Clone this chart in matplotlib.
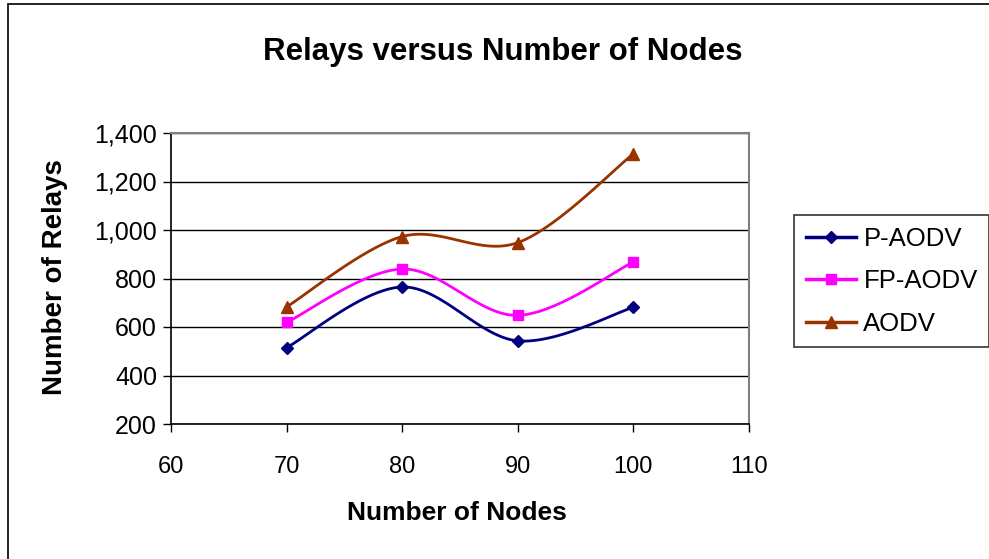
import numpy as np
import matplotlib.pyplot as plt
from matplotlib.patches import Rectangle
from matplotlib.ticker import FuncFormatter

plt.rcParams['font.family'] = ['Liberation Sans', 'DejaVu Sans']

# Data
nodes = [70, 80, 90, 100]
p_aodv = [515, 765, 543, 681]
fp_aodv = [619, 839, 648, 868]
aodv = [683, 973, 948, 1314]

series = [
    ('P-AODV', p_aodv, '#000080', 'D', 6),
    ('FP-AODV', fp_aodv, '#FF00FF', 's', 7),
    ('AODV', aodv, '#993300', '^', 8),
]


# Excel style smoothed line (cubic Bezier with Catmull-Rom control points)
def smooth(x, y, n=40):
    pts = np.column_stack([np.asarray(x, float), np.asarray(y, float)])
    out = []
    for i in range(len(pts) - 1):
        p0 = pts[i - 1] if i > 0 else pts[i]
        p1 = pts[i]
        p2 = pts[i + 1]
        p3 = pts[i + 2] if i + 2 < len(pts) else pts[i + 1]
        c1 = p1 + (p2 - p0) / 6.0
        c2 = p2 - (p3 - p1) / 6.0
        t = np.linspace(0, 1, n)[:, None]
        seg = ((1 - t) ** 3) * p1 + 3 * ((1 - t) ** 2) * t * c1 \
            + 3 * (1 - t) * t ** 2 * c2 + t ** 3 * p2
        out.append(seg if i == 0 else seg[1:])
    seg = np.vstack(out)
    return seg[:, 0], seg[:, 1]


fig = plt.figure(figsize=(9.89, 5.59), dpi=100)
# chart border (runs off the right and bottom edges like the original)
fig.patches.append(Rectangle((8 / 989, -0.1), 1.2, 1.1 - 4 / 559,
                             transform=fig.transFigure, fill=False,
                             edgecolor='black', linewidth=1.2))

ax = fig.add_axes([171 / 989, 135 / 559, 578 / 989, 291 / 559])

for label, vals, color, marker, ms in series:
    sx, sy = smooth(nodes, vals)
    ax.plot(sx, sy, color=color, lw=2, zorder=3)
    ax.plot(nodes, vals, color=color, marker=marker, markersize=ms,
            linestyle='none', zorder=4)
    ax.plot([], [], color=color, lw=2.5, marker=marker, markersize=ms, label=label)

ax.set_xlim(60, 110)
ax.set_ylim(200, 1400)
ax.set_xticks(range(60, 111, 10))
ax.set_yticks(range(200, 1401, 200))
ax.yaxis.set_major_formatter(FuncFormatter(lambda v, p: f'{int(v):,}'))
ax.grid(axis='y', color='black', lw=1)
ax.set_axisbelow(True)

for side in ['top', 'right']:
    ax.spines[side].set_color('#808080')
    ax.spines[side].set_linewidth(1.5)
for side in ['left', 'bottom']:
    ax.spines[side].set_color('black')
    ax.spines[side].set_linewidth(1.2)

ax.tick_params(axis='both', direction='out', length=6, width=1, colors='black')
ax.tick_params(axis='y', labelsize=18, pad=4)
ax.tick_params(axis='x', labelsize=17, pad=17)

fig.text(457 / 989, 1 - 513 / 559, 'Number of Nodes',
         ha='center', va='center', fontsize=19, fontweight='bold')
fig.text(55 / 989, 1 - 277 / 559, 'Number of Relays', rotation=90,
         ha='center', va='center', fontsize=20, fontweight='bold')
fig.text(503 / 989, 1 - 52 / 559, 'Relays versus Number of Nodes',
         ha='center', va='center', fontsize=22.5, fontweight='bold')

leg = ax.legend(loc='upper left', bbox_to_anchor=(794 / 989, 1 - 215 / 559),
                bbox_transform=fig.transFigure, frameon=True, fancybox=False,
                edgecolor='black', handlelength=1.95, borderaxespad=0,
                borderpad=0.45, labelspacing=0.72, handletextpad=0.3,
                prop={'size': 18.5})
leg.get_frame().set_linewidth(1.2)

fig.savefig('out.png', dpi=100)
